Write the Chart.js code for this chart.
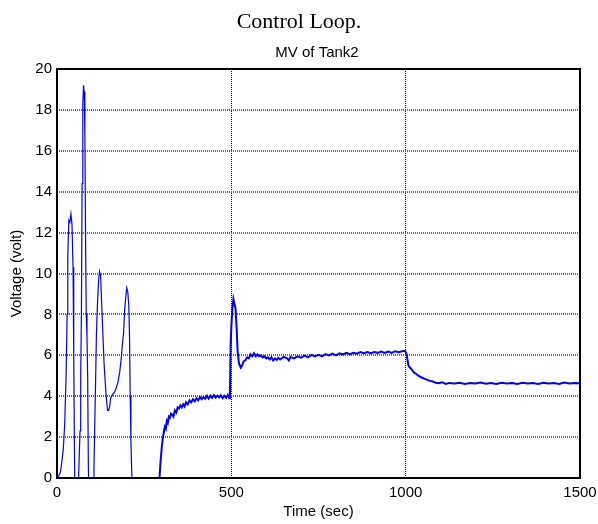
<!DOCTYPE html>
<html>
<head>
<meta charset="utf-8">
<script src="https://cdn.jsdelivr.net/npm/chart.js@4"></script>
<style>
  html, body { margin: 0; padding: 0; background: #fff; }
  #wrap { width: 598px; height: 524px; }
</style>
</head>
<body>
<div id="wrap"><canvas id="myChart" width="598" height="524"></canvas></div>
<script>
const mainTitle = 'Control Loop.';
const plotTitle = 'MV of Tank2';
const xLabel = 'Time (sec)';
const yLabel = 'Voltage (volt)';
const xTicks = [0, 500, 1000, 1500];
const yTicks = [0, 2, 4, 6, 8, 10, 12, 14, 16, 18, 20];

// MV signal (values below 0 are clipped by the axis)
const timeSec = [
  0, 5, 10, 14, 18, 22, 26, 29, 31, 34, 37, 40, 43, 46, 48, 50, 52, 55, 58,
  61, 64, 66, 68, 70, 72, 74, 76, 78, 80, 82, 84, 86, 88, 90, 93, 100, 104,
  106, 108, 111, 113, 116, 119, 122, 125, 128, 131, 135, 139, 142, 145, 148,
  151, 154, 157, 160, 165, 170, 175, 180, 184, 188, 191, 194, 197, 200, 203,
  206, 208, 210, 212, 214, 216, 220, 290,
  294, 297, 300, 303, 306, 309, 312, 315, 318, 321, 324, 327, 330, 334, 338,
  342, 346, 350, 354, 358, 362, 366, 370, 375, 380, 385, 390, 395, 400, 405,
  410, 415, 420, 425, 430, 435, 440, 445, 450, 455, 460, 465, 470, 475, 480,
  485, 490, 494,
  496, 498, 500, 503, 506, 509, 512, 515, 518, 522, 527, 531, 535, 540, 545,
  550, 555, 560, 565, 570, 575, 580, 585, 590, 595, 600, 605, 610, 615, 620,
  625, 630, 635, 640, 650, 660, 665, 670, 680, 690, 700, 710, 720, 730, 740,
  750, 760, 770, 780, 790, 800, 810, 820, 830, 840, 850, 860, 870, 880, 890,
  900, 910, 920, 930, 940, 950, 960, 970, 980, 990, 998,
  1002, 1005, 1008, 1012, 1018, 1024, 1030, 1036, 1042, 1048, 1055, 1062,
  1070, 1078, 1086, 1095, 1105, 1115, 1125, 1140, 1155, 1170, 1185, 1200,
  1215, 1230, 1245, 1260, 1275, 1290, 1305, 1320, 1335, 1350, 1365, 1380,
  1395, 1410, 1425, 1440, 1455, 1470, 1485, 1500
];
const voltage = [
  0, 0.1, 0.3, 0.8, 1.4, 2.6, 4.9, 8.0, 10.9, 12.6, 12.5, 12.9, 12.4, 10.3, 6.0, 1.5, -2, -3, -2,
  -0.5, 1.2, 2.3, 5.0, 8.0, 14.4, 18.3, 19.2, 18.9, 16.8, 11.5, 8.0, 6.9, 4.9, 0.5, -2, -3, -1.5,
  0.5, 2.3, 5.0, 7.0, 8.5, 9.6, 10.1, 9.9, 8.6, 7.3, 5.6, 4.5, 3.8, 3.3, 3.3,
  3.5, 3.9, 4.0, 4.1, 4.2, 4.4, 4.7, 5.2, 5.8, 6.6, 7.1, 8.2, 8.8, 9.3, 9.1,
  8.4, 6.9, 4.0, 1.8, 0.5, -0.5, -3, -3,
  0, 0.8, 1.4, 1.9, 2.2, 2.5, 2.4, 2.8, 2.7, 3.0, 2.95, 3.15, 3.1, 3.0, 3.3,
  3.2, 3.45, 3.4, 3.55, 3.45, 3.6, 3.5, 3.7, 3.6, 3.8, 3.7, 3.85, 3.75, 3.9, 3.8,
  3.95, 3.85, 3.95, 3.88, 4.02, 3.88, 4.02, 3.92, 4.05, 3.93, 4.03, 3.95, 4.05, 3.9, 4.02,
  3.92, 4.06, 3.9,
  4.1, 6.5, 7.4, 8.3, 8.75, 8.5, 8.3, 7.4, 6.2, 5.6, 5.4, 5.5, 5.7, 5.75, 5.9,
  5.85, 6.05, 5.95, 6.1, 5.95, 6.05, 5.95, 6.0, 5.9, 5.95, 5.85, 5.9, 5.8, 5.9, 5.75,
  5.85, 5.78, 5.88, 5.8, 5.92, 5.85, 5.75, 5.92, 5.85, 5.95, 5.88, 5.98, 5.9, 6.02, 5.95,
  6.02, 5.95, 6.06, 6.0, 6.08, 6.0, 6.1, 6.04, 6.12, 6.05, 6.12, 6.08, 6.16, 6.1, 6.16,
  6.1, 6.16, 6.12, 6.18, 6.12, 6.18, 6.12, 6.2, 6.15, 6.2, 6.22,
  6.1, 5.8, 5.5, 5.4, 5.3, 5.15, 5.1, 5.0, 4.95, 4.9, 4.85, 4.8,
  4.75, 4.72, 4.66, 4.64, 4.68, 4.6, 4.65, 4.62, 4.66, 4.6, 4.65, 4.62,
  4.67, 4.61, 4.65, 4.6, 4.66, 4.62, 4.65, 4.6, 4.66, 4.62, 4.64, 4.6,
  4.66, 4.62, 4.65, 4.6, 4.67, 4.62, 4.65, 4.63
];

const points = timeSec.map((t, i) => ({x: t, y: voltage[i]}));
const axisFont = {family: '"Liberation Sans", Arial, sans-serif', size: 15};

const plotTexts = {
  id: 'plotTexts',
  afterDraw(chart) {
    const ctx = chart.ctx;
    ctx.save();
    ctx.fillStyle = '#000';
    ctx.textAlign = 'center';
    ctx.textBaseline = 'middle';
    ctx.font = '22px "Liberation Serif", "Times New Roman", serif';
    ctx.fillText(mainTitle, 299, 22);
    ctx.font = '15px "Liberation Sans", Arial, sans-serif';
    ctx.fillText(plotTitle, 317, 53);
    // solid box round the axes
    const a = chart.chartArea;
    ctx.strokeStyle = '#000';
    ctx.lineWidth = 2;
    ctx.strokeRect(a.left, a.top, a.right - a.left, a.bottom - a.top);
    ctx.restore();
  }
};

const config = {
  type: 'line',
  data: {
    datasets: [{
      label: plotTitle,
      data: points,
      borderColor: '#0000ff',
      borderWidth: 1.2,
      pointRadius: 0,
      fill: false,
      tension: 0,
      segment: {
        borderWidth: c => (c.p0.parsed.x >= 294 ? 2 : 1.2)
      }
    }]
  },
  options: {
    responsive: false,
    animation: false,
    layout: {padding: {top: 69, right: 18, left: 0, bottom: 0}},
    plugins: {
      legend: {display: false},
      tooltip: {enabled: false}
    },
    scales: {
      x: {
        type: 'linear',
        min: 0,
        max: 1500,
        afterBuildTicks: s => { s.ticks = xTicks.map(v => ({value: v})); },
        afterFit: s => { s.height = 46; s.paddingLeft = 0; s.paddingRight = 0; },
        border: {display: false, dash: [1, 1]},
        grid: {color: '#000', lineWidth: 1, drawTicks: false},
        ticks: {
          color: '#000',
          padding: 6,
          maxRotation: 0,
          font: axisFont,
          callback: v => String(v)
        },
        title: {
          display: true,
          text: xLabel,
          color: '#000',
          padding: {top: 0, bottom: 3},
          font: axisFont
        }
      },
      y: {
        type: 'linear',
        min: 0,
        max: 20,
        afterBuildTicks: s => { s.ticks = yTicks.map(v => ({value: v})); },
        afterFit: s => { s.width = 57; s.paddingTop = 0; s.paddingBottom = 0; },
        border: {display: false, dash: [1, 1]},
        grid: {color: '#666', lineWidth: 2, drawTicks: false},
        ticks: {
          color: '#000',
          padding: 5,
          font: axisFont,
          callback: v => String(v)
        },
        title: {
          display: true,
          text: yLabel,
          color: '#000',
          padding: {top: 8, bottom: 0},
          font: axisFont
        }
      }
    }
  },
  plugins: [plotTexts]
};

const myChart = new Chart(document.getElementById('myChart'), config);
</script>
</body>
</html>
